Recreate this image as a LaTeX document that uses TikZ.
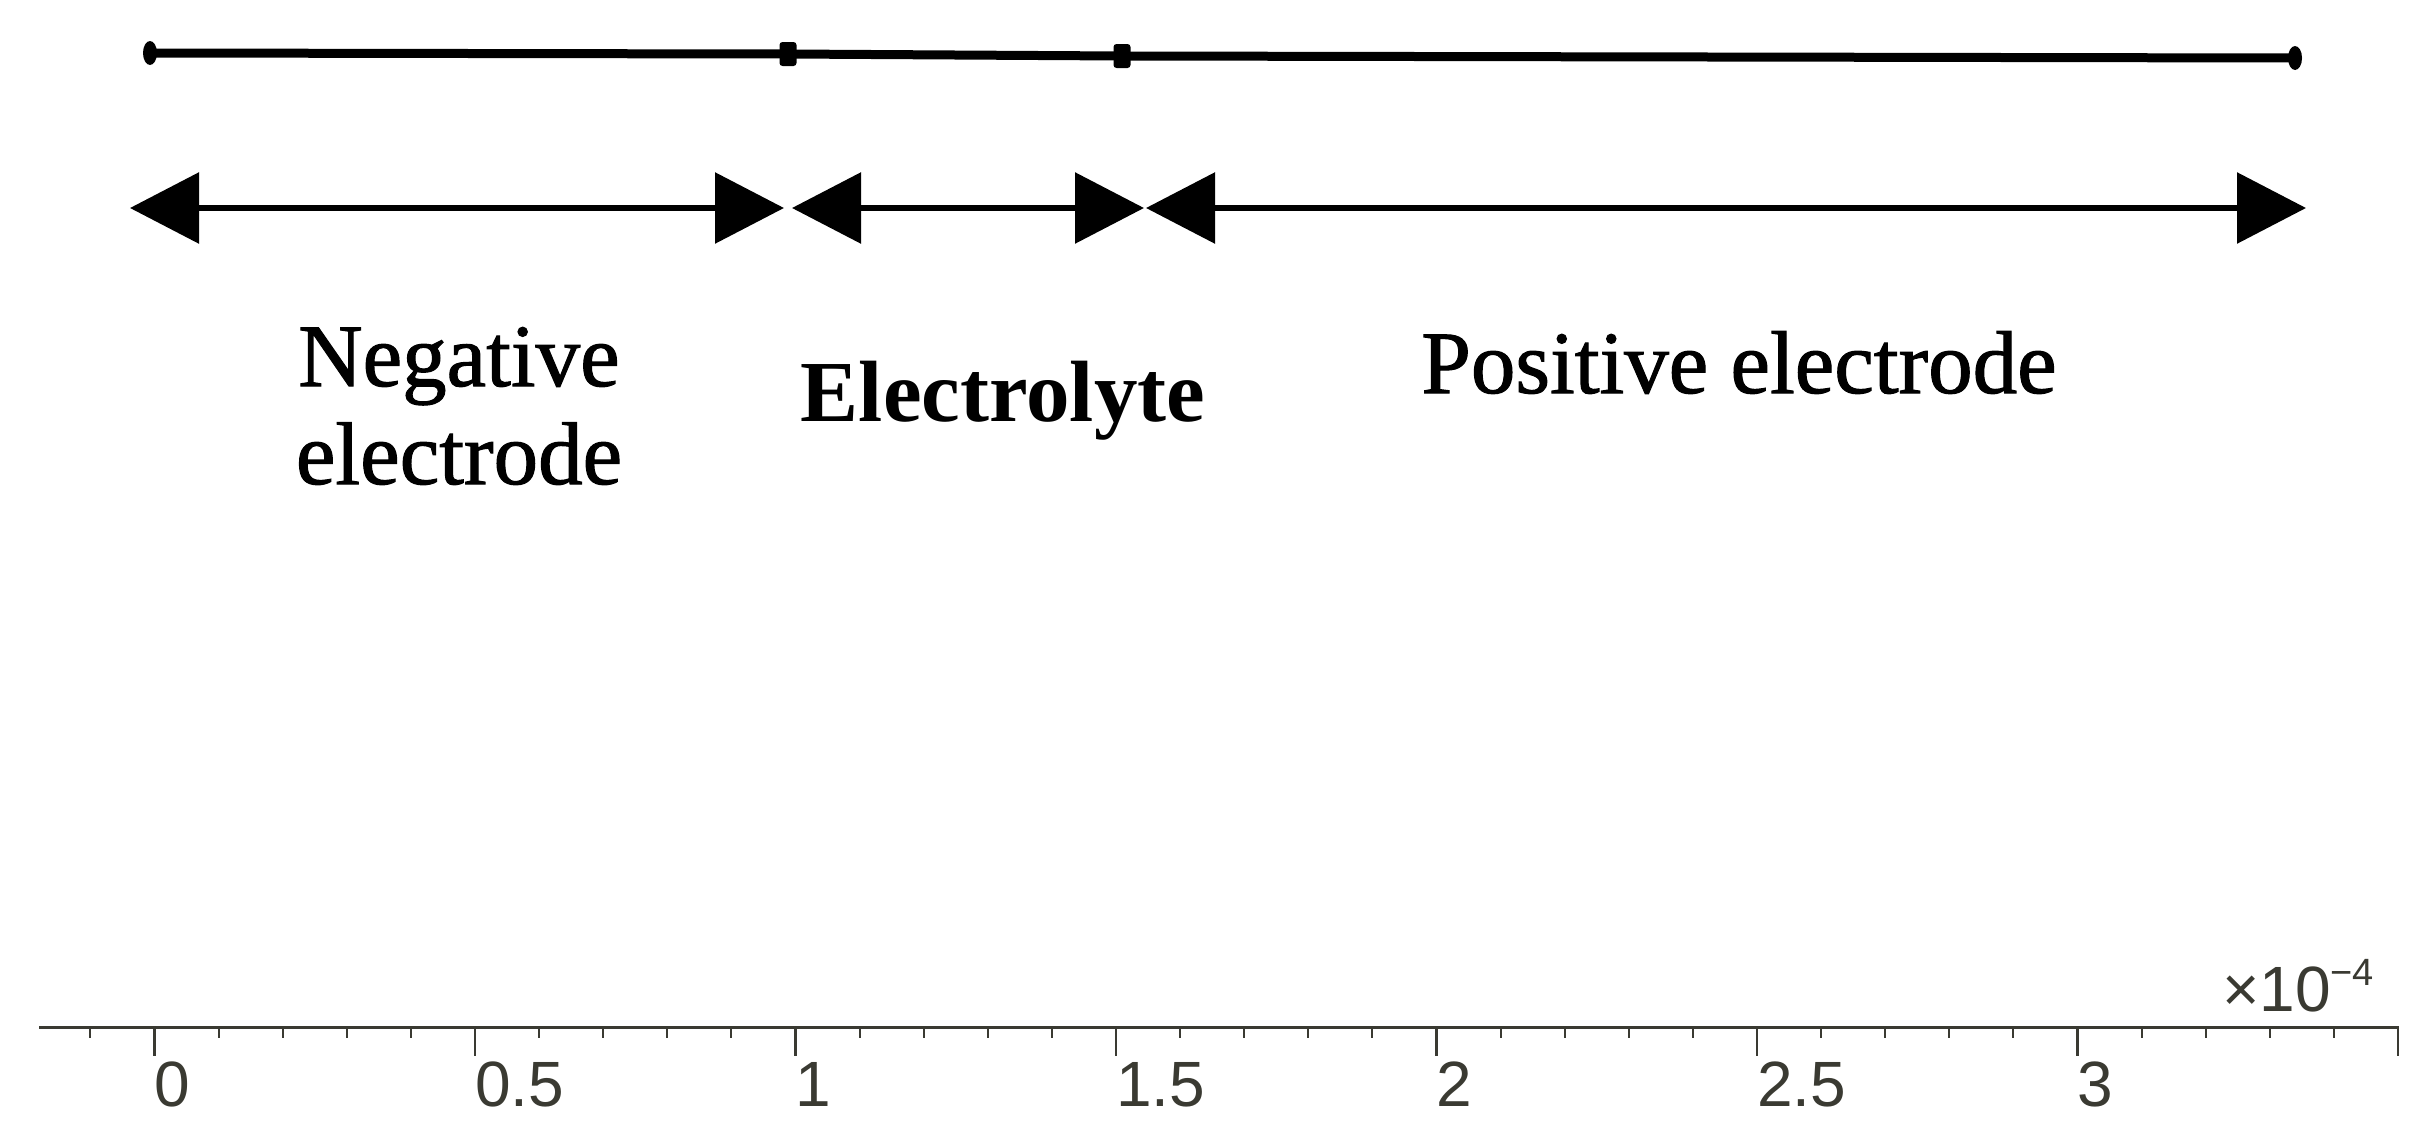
\documentclass[tikz,border=0pt]{standalone}
\usepackage{fontspec}
\setmainfont{Liberation Serif}
\newfontfamily\heavyserif[FakeBold=1.2]{Liberation Serif}
\newfontfamily\axfont{Liberation Sans}
\usetikzlibrary{arrows.meta,shapes.geometric}
\definecolor{axcol}{RGB}{58,58,50}
\tikzset{
  topline/.style={line width=9pt, black},
  knob/.style={fill=black, rounded corners=3pt, minimum width=17pt, minimum height=24pt, inner sep=0pt},
  endcap/.style={fill=black, ellipse, minimum width=14pt, minimum height=24pt, inner sep=0pt},
  span/.style={line width=6pt, black, {Triangle[length=69pt,width=70pt]}-{Triangle[length=69pt,width=70pt]}},
  region/.style={font=\heavyserif\fontsize{89}{98}\selectfont, align=center, inner sep=0pt},
  axisline/.style={line width=3pt, axcol},
  majortick/.style={line width=2.5pt, axcol},
  minortick/.style={line width=2pt, axcol},
  ticklabel/.style={font=\axfont\fontsize{64}{64}\selectfont, text=axcol, inner sep=0pt, anchor=north west},
}
\begin{document}
\begin{tikzpicture}[x=1pt,y=-1pt]
\useasboundingbox[fill=white] (0,0) rectangle (2422,1146);
% top line
\coordinate (t0) at (150,53);
\coordinate (t1) at (788,54);
\coordinate (t2) at (1122,56);
\coordinate (t3) at (2295,58);
\draw[topline] (t0) -- (t1) -- (t2) -- (t3);
\node[endcap] (k0) at (t0) {};
\node[knob] (k1) at (t1) {};
\node[knob] (k2) at (t2) {};
\node[endcap] (k3) at (t3) {};
% span arrows
\coordinate (a0) at (130,208);
\coordinate (a1) at (784,208);
\coordinate (b0) at (792,208);
\coordinate (b1) at (1144,208);
\coordinate (c0) at (1146,208);
\coordinate (c1) at (2306,208);
\draw[span] (a0) -- (a1);
\draw[span] (b0) -- (b1);
\draw[span] (c0) -- (c1);
% labels
\node[region] (neg) at (459,406) {Negative\\electrode};
\node[region, font=\bfseries\fontsize{87}{96}\selectfont, anchor=base] (ele) at (1003,421) {Electrolyte};
\node[region, anchor=base] (pos) at (1739,393) {Positive electrode};
% axis
\coordinate (ax0) at (39,1027);
\coordinate (ax1) at (2399,1027);
\draw[axisline] (ax0) -- (ax1);
\foreach \i in {-1,...,35}{
  \pgfmathsetmacro{\xx}{154.5+64.1*\i}
  \pgfmathtruncatemacro{\r}{mod(\i+10,5)}
  \ifnum\r=0
    \draw[majortick] (\xx,1027) -- (\xx,1056);
  \else
    \draw[minortick] (\xx,1027) -- (\xx,1038);
  \fi
}
\foreach \v/\lab in {0/0,0.5/0.5,1/1,1.5/1.5,2/2,2.5/2.5,3/3}{
  \node[ticklabel] (l\lab) at (154.5+641*\v,1062) {\lab};
}
\node[ticklabel, anchor=south west] (scale) at (2222,1012) {×10\raisebox{0.75ex}{\fontsize{38}{38}\selectfont −4}};
\end{tikzpicture}
\end{document}
